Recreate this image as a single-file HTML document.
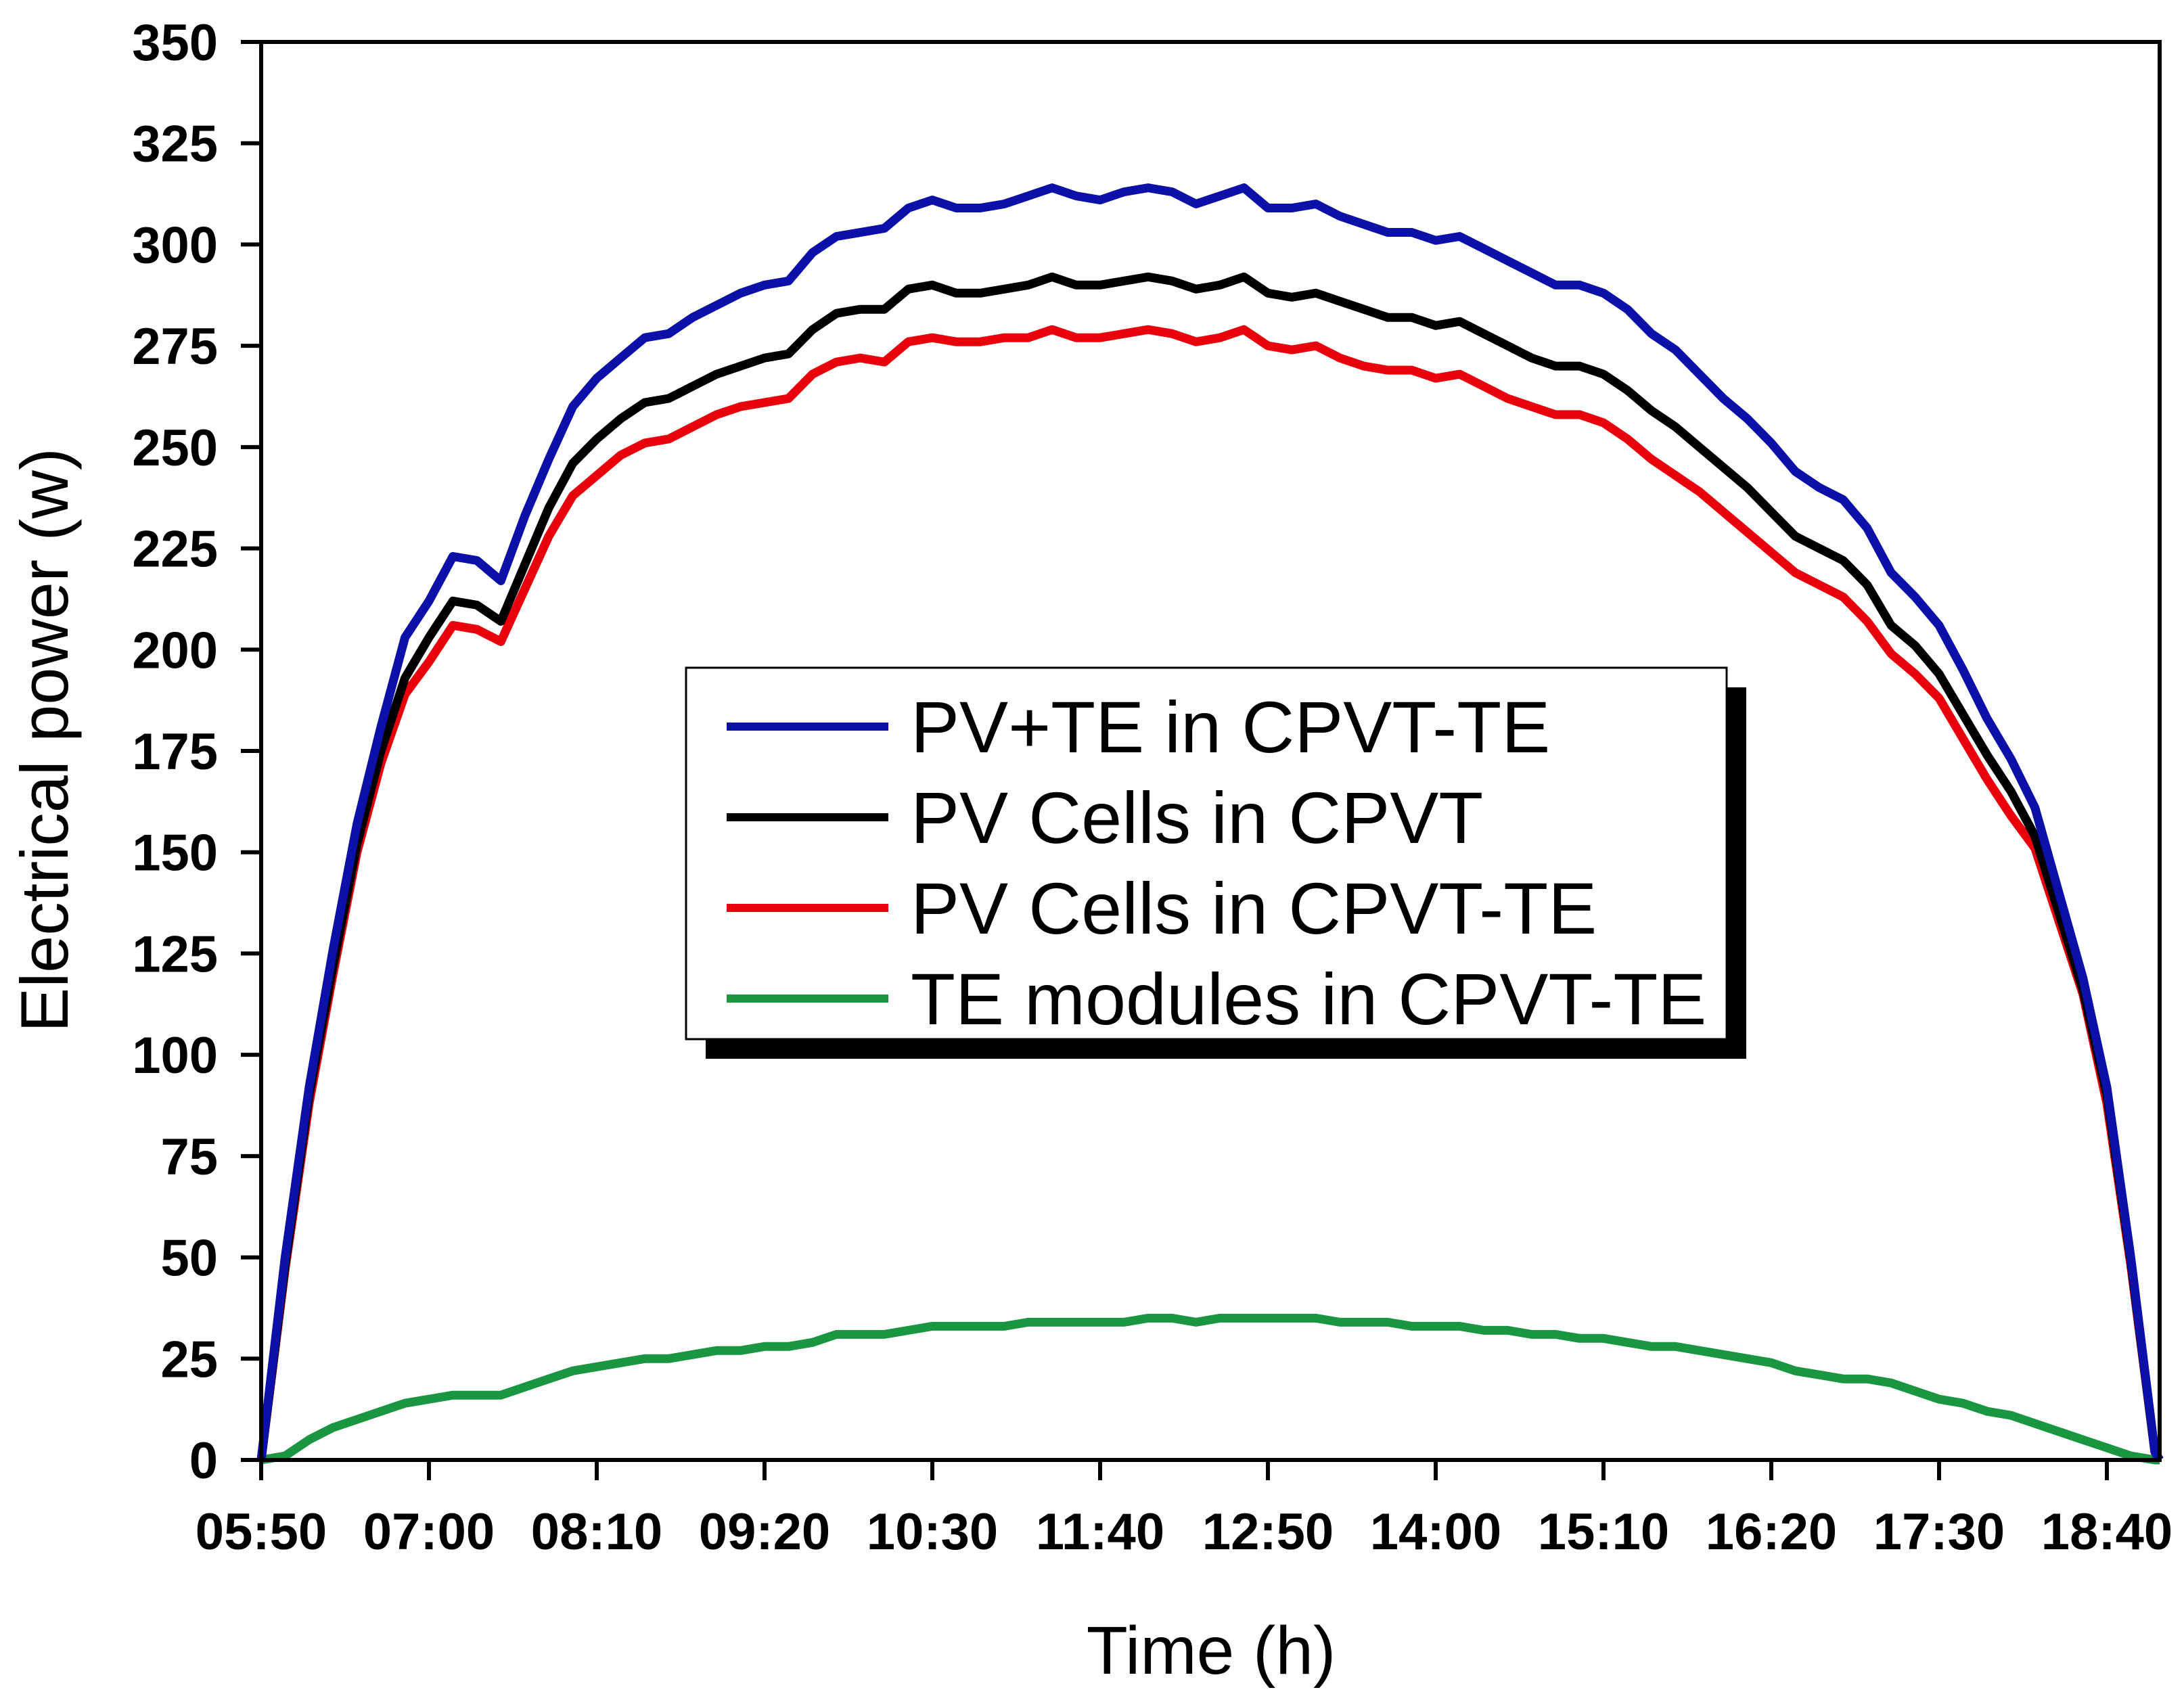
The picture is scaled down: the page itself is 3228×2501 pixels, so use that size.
<!DOCTYPE html>
<html><head><meta charset="utf-8"><style>
html,body{margin:0;padding:0;background:#fff;}
svg{display:block;font-family:"Liberation Sans",Arial,sans-serif;}
</style></head><body>
<svg id="chart" width="3228" height="2501" viewBox="0 0 3228 2501" xmlns="http://www.w3.org/2000/svg">
<rect x="0" y="0" width="3228" height="2501" fill="#fff"/>
<g id="series"></g>
<rect x="386" y="62" width="2806" height="2096" fill="none" stroke="#000" stroke-width="6"/>
<g id="yticks"></g>
<g id="xticks"></g>
<text x="1790" y="2474" font-size="100" text-anchor="middle">Time (h)</text>
<text transform="translate(100,1094) rotate(-90)" font-size="99" text-anchor="middle">Electrical power (w)</text>
<g>
<rect x="1043" y="1016" width="1538" height="549" fill="#000"/>
<rect x="1014" y="987" width="1538" height="549" fill="#fff" stroke="#000" stroke-width="3"/>
<g id="legend-entries"></g>
</g>
</svg>
<script>
const times = Array.from({length: 80}, (_, i) => i * 10); // minutes from 05:50
const pvTe = [0,50,92,126,157,181,203,212,223,222,217,233,247,260,267,272,277,278,282,285,288,290,291,298,302,303,304,309,311,309,309,310,312,314,312,311,313,314,313,310,312,314,309,309,310,307,305,303,303,301,302,299,296,293,290,290,288,284,278,274,268,262,257,251,244,240,237,230,219,213,206,195,183,173,161,140,119,92,50,2];
const pvCpvt = [0,48,90,122,152,175,193,203,212,211,207,221,235,246,252,257,261,262,265,268,270,272,273,279,283,284,284,289,290,288,288,289,290,292,290,290,291,292,291,289,290,292,288,287,288,286,284,282,282,280,281,278,275,272,270,270,268,264,259,255,250,245,240,234,228,225,222,216,206,201,194,184,174,165,154,135,116,90,49,2];
const pvCpvtTe = [0,47,88,120,150,172,189,197,206,205,202,215,228,238,243,248,251,252,255,258,260,261,262,268,271,272,271,276,277,276,276,277,277,279,277,277,278,279,278,276,277,279,275,274,275,272,270,269,269,267,268,265,262,260,258,258,256,252,247,243,239,234,229,224,219,216,213,207,199,194,188,178,168,159,151,133,115,88,48,2];
const teModules = [0,1,5,8,10,12,14,15,16,16,16,18,20,22,23,24,25,25,26,27,27,28,28,29,31,31,31,32,33,33,33,33,34,34,34,34,34,35,35,34,35,35,35,35,35,34,34,34,33,33,33,32,32,31,31,30,30,29,28,28,27,26,25,24,22,21,20,20,19,17,15,14,12,11,9,7,5,3,1,0];
const yTicks = [0,25,50,75,100,125,150,175,200,225,250,275,300,325,350];
const xTickLabels = ["05:50","07:00","08:10","09:20","10:30","11:40","12:50","14:00","15:10","16:20","17:30","18:40"];
const xTickMinutes = [0,70,140,210,280,350,420,490,560,630,700,770];
const seriesNames = ["PV+TE in CPVT-TE","PV Cells in CPVT","PV Cells in CPVT-TE","TE modules in CPVT-TE"];

const NS = "http://www.w3.org/2000/svg";
const X0 = 386, PXMIN = 248/70, Y0 = 2158, PXVAL = 2096/350;
const xs = m => X0 + m * PXMIN;
const ys = v => Y0 - v * PXVAL;
function mk(tag, attrs, parent){ const e = document.createElementNS(NS, tag); for (const k in attrs) e.setAttribute(k, attrs[k]); parent.appendChild(e); return e; }

const yg = document.getElementById('yticks');
yTicks.forEach(v => {
  const l = mk('line', {x1: X0-30, x2: X0, y1: ys(v), y2: ys(v), stroke: '#000', 'stroke-width': 6}, yg);
  
  
  const t = mk('text', {x: 322, y: ys(v) + 27, 'font-size': 76, 'font-weight': 'bold', 'text-anchor': 'end'}, yg);
  t.textContent = v;
  
  
});
const xg = document.getElementById('xticks');
xTickLabels.forEach((lab, i) => {
  const x = xs(xTickMinutes[i]);
  const l = mk('line', {x1: x, x2: x, y1: Y0, y2: Y0 + 30, stroke: '#000', 'stroke-width': 6}, xg);
  
  
  const t = mk('text', {x: x, y: 2290, 'font-size': 76, 'font-weight': 'bold', 'text-anchor': 'middle'}, xg);
  t.textContent = lab;
  
  
});

const sg = document.getElementById('series');
const allSeries = [[teModules,'#1a9641','series-te-modules'],[pvCpvtTe,'#e8000b','series-pv-cpvt-te'],[pvCpvt,'#000000','series-pv-cpvt'],[pvTe,'#0a10a8','series-pv-te']];
allSeries.forEach(([vals, col, name]) => {
  const n = Math.min(vals.length, times.length);
  let d = '';
  for (let i = 0; i < n; i++) d += (i ? 'L' : 'M') + xs(times[i]).toFixed(1) + ',' + ys(vals[i]).toFixed(1);
  d += 'L3192,' + ys(0);
  const p = mk('path', {d: d, fill: 'none', stroke: col, 'stroke-width': 13, 'stroke-linejoin': 'round'}, sg);
  
  
});

const lg = document.getElementById('legend-entries');
const legCols = ['#0a10a8','#000000','#e8000b','#1a9641'];
const legY = [1074,1208,1342,1476];
seriesNames.forEach((nm, i) => {
  const l = mk('line', {x1: 1074, x2: 1313, y1: legY[i], y2: legY[i], stroke: legCols[i], 'stroke-width': 12}, lg);
  
  
  const t = mk('text', {x: 1346, y: legY[i] + 38, 'font-size': 108}, lg);
  t.textContent = nm;
  
  
});
</script>
</body></html>
